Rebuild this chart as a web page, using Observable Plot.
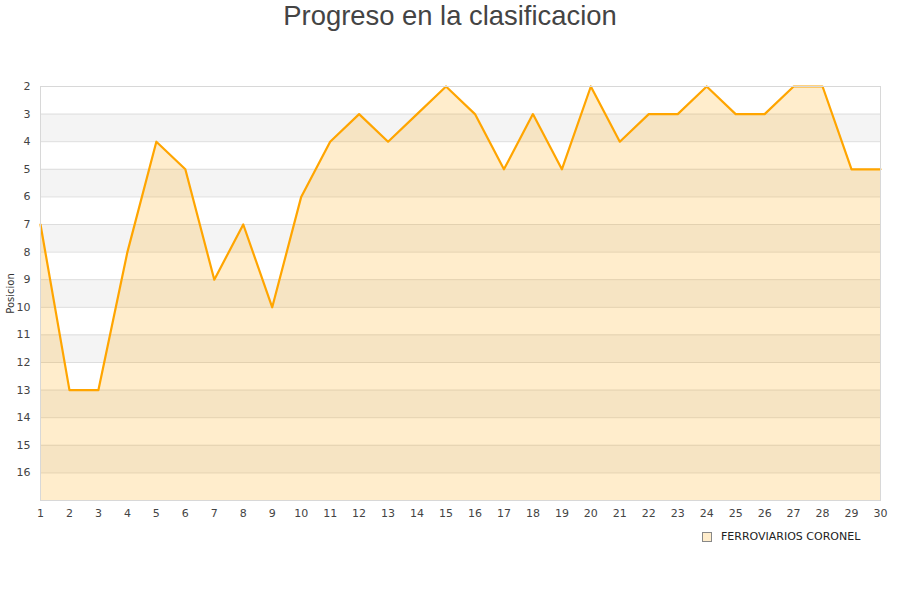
<!DOCTYPE html>
<html>
<head>
<meta charset="utf-8">
<script src="https://cdn.jsdelivr.net/npm/d3@7"></script>
<script src="https://cdn.jsdelivr.net/npm/@observablehq/plot@0.6"></script>
<style>
  body { margin: 0; background: #fff; }
  #wrap { position: relative; width: 900px; height: 600px; font-family: "DejaVu Sans", sans-serif; }
  #title { position: absolute; top: 0; left: 0; width: 900px; text-align: center; font-family: "Liberation Sans", Arial, sans-serif; font-size: 27.4px; color: #444; line-height: 32px; }
  #legend { position: absolute; left: 702px; top: 530px; font-size: 11px; color: #222; display: flex; align-items: center; }
  #legend .sw { width: 8px; height: 8px; background: #ffedcc; border: 1px solid #888; margin-right: 9px; }
</style>
</head>
<body>
<div id="wrap">
  <div id="title">Progreso en la clasificacion</div>
  <div id="chart"></div>
  <div id="legend"><span class="sw"></span><span>FERROVIARIOS CORONEL</span></div>
</div>
<script>
const jornadas = [1,2,3,4,5,6,7,8,9,10,11,12,13,14,15,16,17,18,19,20,21,22,23,24,25,26,27,28,29,30];
const posiciones = [7,13,13,8,4,5,9,7,10,6,4,3,4,3,2,3,5,3,5,2,4,3,3,2,3,3,2,2,5,5];
const yTicks = [2,3,4,5,6,7,8,9,10,11,12,13,14,15,16];
const bandStarts = [3,5,7,9,11,13,15];
const seriesName = "FERROVIARIOS CORONEL";

const data = jornadas.map((j, i) => ({j, pos: posiciones[i]}));
const bands = bandStarts.map(b => ({y1: b, y2: b + 1}));

const chart = Plot.plot({
  width: 900,
  height: 600,
  marginTop: 86,
  marginBottom: 100,
  marginLeft: 40,
  marginRight: 20,
  style: {fontFamily: "DejaVu Sans, sans-serif", fontSize: "11px", color: "#444", background: "transparent"},
  x: {domain: [1, 30], ticks: jornadas, tickSize: 0, tickPadding: 9, label: null, tickFormat: d => d},
  y: {domain: [2, 17], reverse: true, ticks: yTicks, tickSize: 0, tickPadding: 10, label: null},
  marks: [
    Plot.rect(bands, {x1: 1, x2: 30, y1: "y1", y2: "y2", fill: "#f4f4f4"}),
    Plot.ruleY(yTicks, {stroke: "#dddddd", strokeWidth: 1}),
    Plot.areaY(data, {x: "j", y1: 17, y2: "pos", fill: "#ffa500", fillOpacity: 0.2}),
    Plot.line(data, {x: "j", y: "pos", stroke: "#ffa500", strokeWidth: 2.2}),
    Plot.frame({stroke: "#d8d8d8"}),
    Plot.text(["Posicion"], {frameAnchor: "left", dx: -30, rotate: -90, textAnchor: "middle", fontSize: 10, fill: "#333"})
  ]
});
document.getElementById("chart").appendChild(chart);
</script>
</body>
</html>
